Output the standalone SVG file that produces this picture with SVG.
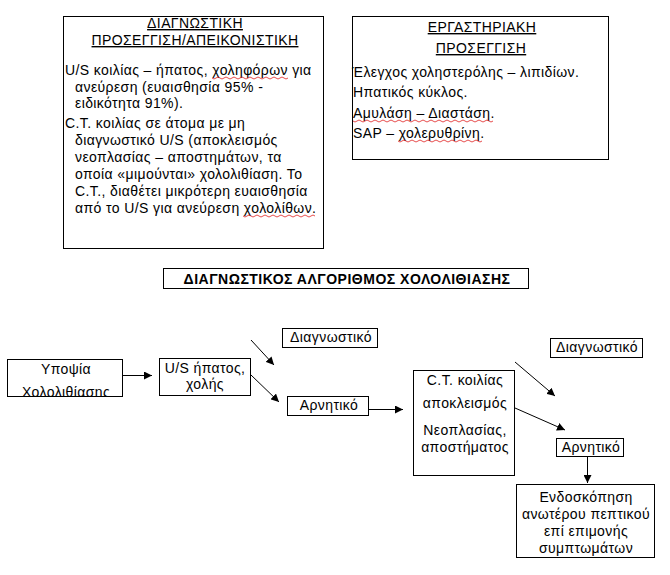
<svg xmlns="http://www.w3.org/2000/svg" width="670" height="575" viewBox="0 0 670 575">
<defs>
<style>
text{font-family:"Liberation Sans",Arial,sans-serif;font-size:14px;letter-spacing:0.4px;fill:#000}
.box{fill:#fff;stroke:#000;stroke-width:1}
.c{text-anchor:middle}
.u{text-decoration:underline}
.b{font-weight:bold;font-size:14px;letter-spacing:0.5px}
.ln{stroke:#000;stroke-width:1;fill:none}
.sq{stroke:#e02020;stroke-width:0.8;fill:none}
</style>
<marker id="ah" viewBox="0 0 10 10" refX="10" refY="5" markerWidth="8" markerHeight="8" markerUnits="userSpaceOnUse" orient="auto">
<path d="M0,0 L10,5 L0,10 z" fill="#000"/>
</marker>
</defs>
<rect width="670" height="575" fill="#fff"/>

<g id="box-imaging">
<rect class="box" x="63.5" y="16.5" width="260" height="232"/>
<text class="c u" x="195" y="28">ΔΙΑΓΝΩΣΤΙΚΗ</text>
<text class="c u" x="195" y="45">ΠΡΟΣΕΓΓΙΣΗ/ΑΠΕΙΚΟΝΙΣΤΙΚΗ</text>
<text x="65" y="75">U/S κοιλίας – ήπατος, χοληφόρων για</text>
<text x="75" y="92">ανεύρεση (ευαισθησία 95% -</text>
<text x="75" y="108">ειδικότητα 91%).</text>
<text x="65" y="128">C.T. κοιλίας σε άτομα με μη</text>
<text x="75" y="145">διαγνωστικό U/S (αποκλεισμός</text>
<text x="75" y="162">νεοπλασίας – αποστημάτων, τα</text>
<text x="75" y="179">οποία «μιμούνται» χολολιθίαση. Το</text>
<text x="75" y="196">C.T., διαθέτει μικρότερη ευαισθησία</text>
<text x="75" y="213">από το U/S για ανεύρεση χολολίθων.</text>
<path class="sq" d="M212,78 q2,2 4,0 t4,0 t4,0 t4,0 t4,0 t4,0 t4,0 t4,0 t4,0 t4,0 t4,0 t4,0 t4,0 t4,0 t4,0 t4,0 t4,0 t4,0 t4,0"/>
<path class="sq" d="M243,216 q2,2 4,0 t4,0 t4,0 t4,0 t4,0 t4,0 t4,0 t4,0 t4,0 t4,0 t4,0 t4,0 t4,0 t4,0 t4,0 t4,0 t4,0 t4,0"/>
</g>

<g id="box-lab">
<rect class="box" x="352.5" y="16.5" width="256" height="143"/>
<text class="c u" x="482" y="32">ΕΡΓΑΣΤΗΡΙΑΚΗ </text>
<text class="c u" x="481" y="53">ΠΡΟΣΕΓΓΙΣΗ</text>
<text x="352" y="77">Έλεγχος χοληστερόλης – λιπιδίων.</text>
<text x="353" y="97">Ηπατικός κύκλος.</text>
<text x="353" y="118">Αμυλάση – Διαστάση.</text>
<text x="353" y="138">SAP – χολερυθρίνη.</text>
<path class="sq" d="M353,121 q2,2 4,0 t4,0 t4,0 t4,0 t4,0 t4,0 t4,0 t4,0 t4,0 t4,0 t4,0 t4,0 t4,0 t4,0 t4,0 t4,0 t4,0 t4,0 t4,0 t4,0 t4,0 t4,0 t4,0 t4,0 t4,0 t4,0 t4,0 t4,0 t4,0 t4,0 t4,0 t4,0 t4,0 t4,0 t4,0"/>
<path class="sq" d="M398,141 q2,2 4,0 t4,0 t4,0 t4,0 t4,0 t4,0 t4,0 t4,0 t4,0 t4,0 t4,0 t4,0 t4,0 t4,0 t4,0 t4,0 t4,0 t4,0 t4,0 t4,0 t4,0"/>
</g>

<g id="title">
<rect class="box" x="163.5" y="268.5" width="365" height="20"/>
<text class="c b" x="347" y="283.5">ΔΙΑΓΝΩΣΤΙΚΟΣ ΑΛΓΟΡΙΘΜΟΣ ΧΟΛΟΛΙΘΙΑΣΗΣ</text>
</g>

<g id="n-suspicion">
<rect class="box" x="7.5" y="359.5" width="115" height="37"/>
<text class="c" x="66" y="374">Υποψία</text>
<text class="c" x="66" y="397">Χολολιθίασης</text>
<rect x="6" y="397" width="120" height="6" fill="#fff"/>
<line class="ln" x1="7.5" y1="396.5" x2="122.5" y2="396.5"/>
</g>

<g id="n-us">
<rect class="box" x="159.5" y="358.5" width="91" height="37"/>
<text class="c" x="205" y="373">U/S ήπατος,</text>
<text class="c" x="205" y="389">χολής</text>
</g>

<g id="n-diag1">
<rect class="box" x="282.5" y="328.5" width="95" height="19"/>
<text class="c" x="331" y="342">Διαγνωστικό</text>
</g>

<g id="n-neg1">
<rect class="box" x="287.5" y="396.5" width="81" height="19"/>
<text class="c" x="329" y="410">Αρνητικό</text>
</g>

<g id="n-ct">
<rect class="box" x="413.5" y="370.5" width="101" height="105"/>
<text class="c" x="465" y="385">C.T. κοιλίας</text>
<text class="c" x="465" y="408">αποκλεισμός</text>
<text class="c" x="465" y="435">Νεοπλασίας,</text>
<text class="c" x="465" y="452">αποστήματος</text>
</g>

<g id="n-diag2">
<rect class="box" x="550.5" y="338.5" width="92" height="19"/>
<text class="c" x="597" y="352">Διαγνωστικό</text>
</g>

<g id="n-neg2">
<rect class="box" x="556.5" y="438.5" width="67" height="18"/>
<text class="c" x="591" y="452">Αρνητικό</text>
</g>

<g id="n-endo">
<rect class="box" x="516.5" y="484.5" width="138" height="73"/>
<text class="c" x="586" y="502">Ενδοσκόπηση</text>
<text class="c" x="586" y="519">ανωτέρου πεπτικού</text>
<text class="c" x="586" y="536">επί επιμονής</text>
<text class="c" x="586" y="553">συμπτωμάτων</text>
</g>

<g id="connectors">
<line class="ln" x1="123" y1="375.5" x2="152" y2="375.5" marker-end="url(#ah)"/>
<line class="ln" x1="251" y1="340" x2="274" y2="365" marker-end="url(#ah)"/>
<line class="ln" x1="251" y1="375" x2="279" y2="402" marker-end="url(#ah)"/>
<line class="ln" x1="369" y1="409.5" x2="403" y2="409.5" marker-end="url(#ah)"/>
<line class="ln" x1="515" y1="362" x2="555" y2="396" marker-end="url(#ah)"/>
<line class="ln" x1="515" y1="408" x2="565" y2="430" marker-end="url(#ah)"/>
<line class="ln" x1="587.5" y1="457" x2="587.5" y2="483" marker-end="url(#ah)"/>
</g>
</svg>
